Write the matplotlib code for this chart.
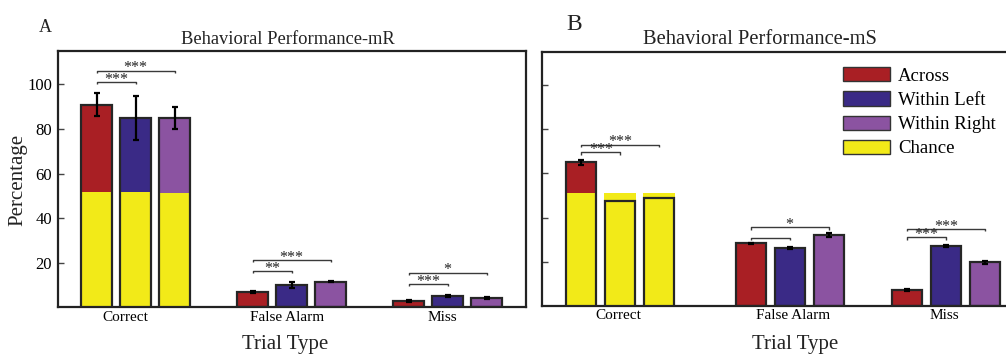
import matplotlib
matplotlib.use("Agg")
import matplotlib.pyplot as plt
from matplotlib.patches import Patch

plt.rcParams['font.family'] = ['Liberation Serif', 'DejaVu Serif']

# ---- data -------------------------------------------------------------
categories = ['Correct', 'False Alarm', 'Miss']
conditions = ['Across', 'Within Left', 'Within Right']
legend_labels = ['Across', 'Within Left', 'Within Right', 'Chance']
y_ticks = [20, 40, 60, 80, 100]

# monkey R
mR_across = [90.9, 6.7, 2.8]
mR_within_left = [84.9, 10.0, 5.2]
mR_within_right = [85.0, 11.5, 4.0]
mR_across_err = [5.2, 0.5, 0.3]
mR_within_left_err = [9.9, 1.4, 0.5]
mR_within_right_err = [5.0, 0.3, 0.4]
mR_chance = [51.5, 51.5, 51.3]          # chance level for the Correct group
mR_sig_y = [[101.1, 106.2], [16.3, 21.2], [10.3, 15.5]]
mR_sig_text = [['***', '***'], ['**', '***'], ['***', '*']]

# monkey S
mS_across = [65.0, 28.3, 7.2]
mS_within_left = [47.5, 26.2, 27.1]
mS_within_right = [48.7, 32.1, 19.7]
mS_across_err = [1.3, 0.4, 0.3]
mS_within_left_err = [0.0, 0.3, 0.6]
mS_within_right_err = [0.0, 1.0, 0.5]
mS_chance = [51.2, 51.2, 51.2]
mS_sig_y = [[69.5, 73.1], [30.9, 35.6], [31.0, 34.7]]
mS_sig_text = [['***', '***'], ['', '*'], ['***', '***']]

# ---- style ------------------------------------------------------------
RED = '#A91F24'
BLUE = '#3A2A86'
PURPLE = '#8B53A1'
YELLOW = '#F2EA18'
EDGE = '#262626'
cond_colors = [RED, BLUE, PURPLE]

W, H = 1006, 355
fig = plt.figure(figsize=(W / 100, H / 100), dpi=100)


def px_axes(left, top, right, bottom):
    return fig.add_axes([left / W, 1 - bottom / H, (right - left) / W, (bottom - top) / H])


def draw_panel(ax, groups, vals, errs, chance, sig_y, sig_text, tick_pos):
    offsets = [-0.25, 0.0, 0.25]
    width = 0.193
    for g, gx in enumerate(groups):
        for j in range(3):
            x = gx + offsets[j]
            v = vals[j][g]
            ax.bar(x, v, width, color=cond_colors[j], edgecolor='none', zorder=2)
            if g == 0:
                ax.bar(x, chance[j], width + 0.012, color=YELLOW, edgecolor='none', zorder=3)
            ax.bar(x, v, width, fill=False, edgecolor=EDGE, linewidth=1.6, zorder=4)
            e = errs[j][g]
            if e > 0:
                ax.errorbar(x, v, yerr=e, fmt='none', ecolor='black', elinewidth=1.6,
                            capsize=2.2, capthick=1.6, zorder=5)
        # significance brackets: Across vs Within Left, Across vs Within Right
        for k, target in enumerate([1, 2]):
            x0 = gx + offsets[0]
            x1 = gx + offsets[target]
            y = sig_y[g][k]
            ax.plot([x0, x0, x1, x1], [y - 1.0, y, y, y - 1.0], color='#3a3a3a',
                    lw=1.0, zorder=6, solid_capstyle='butt')
            if sig_text[g][k]:
                ax.annotate(sig_text[g][k], ((x0 + x1) / 2, y), xytext=(0, -1.2),
                            textcoords='offset points', ha='center', va='baseline',
                            fontsize=11.5, color='#222222', zorder=7)

    ax.set_ylim(0, 115)
    ax.set_yticks(y_ticks)
    ax.set_xticks(tick_pos)
    ax.set_xticklabels(categories, fontsize=11)
    ax.tick_params(axis='x', length=0, pad=2.5)
    ax.tick_params(axis='y', direction='in', length=4, width=1.0, color='#444444',
                   labelsize=12, pad=4)
    for s in ax.spines.values():
        s.set_linewidth(1.6)
        s.set_color('#222222')


# ---- panel A ----------------------------------------------------------
axA = px_axes(57.5, 51, 525.5, 307.2)
groupsA = [1.0, 2.0, 3.0]
draw_panel(axA, groupsA,
           [mR_across, mR_within_left, mR_within_right],
           [mR_across_err, mR_within_left_err, mR_within_right_err],
           mR_chance, mR_sig_y, mR_sig_text, [0.935, 1.97, 2.97])
axA.set_xlim(0.5, 3.5)

# ---- panel B ----------------------------------------------------------
axB = px_axes(542.3, 52, 1018.3, 305.9)
groupsB = [1.0, 2.085, 3.085]
draw_panel(axB, groupsB,
           [mS_across, mS_within_left, mS_within_right],
           [mS_across_err, mS_within_left_err, mS_within_right_err],
           mS_chance, mS_sig_y, mS_sig_text, [0.985, 2.106, 3.073])
axB.set_xlim(0.5, 3.55)
axB.set_yticklabels([])

handles = [Patch(facecolor=c, edgecolor='#333333', linewidth=1.0)
           for c in [RED, BLUE, PURPLE, YELLOW]]
fig.legend(handles, legend_labels, loc='upper left',
           bbox_to_anchor=(843 / W, 1 - 67 / H), bbox_transform=fig.transFigure,
           frameon=False, fontsize=13.5, handlelength=2.5, handleheight=0.8,
           handletextpad=0.45, labelspacing=0.35, borderpad=0, borderaxespad=0)

# ---- titles, labels ---------------------------------------------------
fig.text(288 / W, 1 - 43.5 / H, 'Behavioral Performance-mR', ha='center',
         va='baseline', fontsize=13.3, color='#222222')
fig.text(760 / W, 1 - 44.5 / H, 'Behavioral Performance-mS', ha='center',
         va='baseline', fontsize=14.8, color='#222222')
fig.text(45.5 / W, 1 - 32 / H, 'A', ha='center', va='baseline', fontsize=13,
         color='#222222')
fig.text(574.5 / W, 1 - 30 / H, 'B', ha='center', va='baseline', fontsize=17,
         color='#222222')
fig.text(285 / W, 1 - 349 / H, 'Trial Type', ha='center', va='baseline',
         fontsize=15, color='#222222')
fig.text(795 / W, 1 - 348.5 / H, 'Trial Type', ha='center', va='baseline',
         fontsize=15, color='#222222')
fig.text(18 / W, 1 - 180 / H, 'Percentage', ha='center', va='center',
         rotation=90, fontsize=15, color='#222222')

fig.savefig('out.png', dpi=100)
